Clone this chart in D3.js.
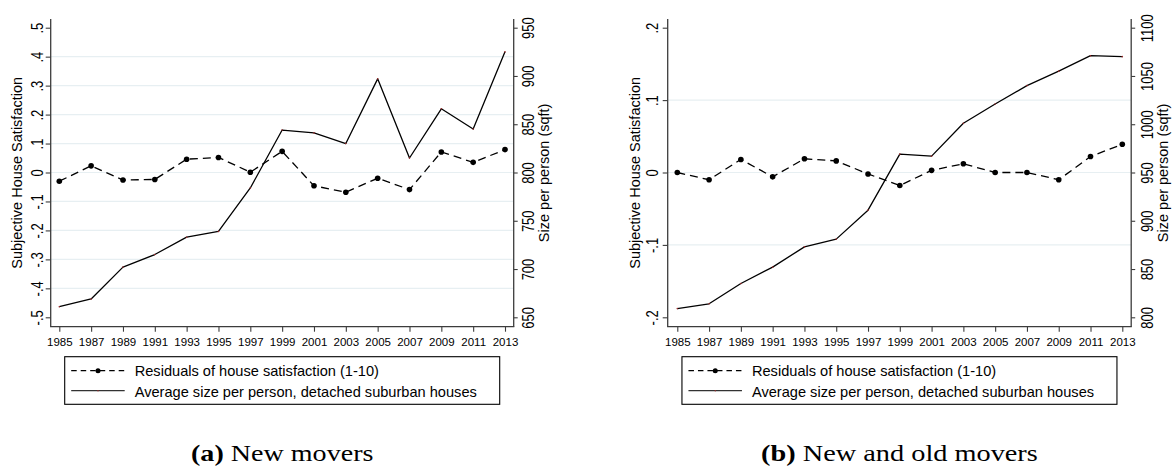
<!DOCTYPE html>
<html>
<head>
<meta charset="utf-8">
<script src="https://cdn.jsdelivr.net/npm/d3@7"></script>
<style>
  body { margin: 0; background: #fff; }
  svg { display: block; font-family: "Liberation Sans", Arial, Helvetica, sans-serif; }
</style>
</head>
<body>
<svg id="chart" width="1174" height="468"></svg>
<script>
// data
const years = [1985, 1987, 1989, 1991, 1993, 1995, 1997, 1999, 2001, 2003, 2005, 2007, 2009, 2011, 2013];

// (a) new movers
const residNew = [-0.030, 0.023, -0.026, -0.024, 0.046, 0.052, 0.001, 0.073, -0.046, -0.068, -0.020, -0.059, 0.071, 0.035, 0.079];
const sizeNew = [661, 669, 702, 715, 733, 739, 784, 844, 841, 830, 897, 815, 866, 845, 925];

// (b) new and old movers
const residAll = [0.000, -0.010, 0.018, -0.006, 0.019, 0.016, -0.002, -0.018, 0.003, 0.012, 0.000, 0.000, -0.010, 0.022, 0.039];
const sizeAll = [809, 814, 835, 852, 873, 881, 911, 969, 967, 1001, 1021, 1040, 1055, 1071, 1070];

const leftTicksA = [-0.5, -0.4, -0.3, -0.2, -0.1, 0, 0.1, 0.2, 0.3, 0.4, 0.5];
const rightTicksA = [650, 700, 750, 800, 850, 900, 950];
const leftTicksB = [-0.2, -0.1, 0, 0.1, 0.2];
const rightTicksB = [800, 850, 900, 950, 1000, 1050, 1100];

const leftTitle = 'Subjective House Satisfaction';
const rightTitle = 'Size per person (sqft)';
const legendLabels = ['Residuals of house satisfaction (1-10)', 'Average size per person, detached suburban houses'];
const captions = [['(a)', ' New movers'], ['(b)', ' New and old movers']];

const svg = d3.select('#chart');

// Stata style: .5 / -.5 / 0
const fmt = d => d === 0 ? '0' : d.toFixed(1).replace(/^(-?)0\./, '$1.');

const plotTop = 19, plotBottom = 326.7;
const tickTop = 27.7, tickBottom = 317.3;

const panels = [
    {
        left: 50.7, right: 513.7, xRange: [59.3, 505],
        leftTicks: leftTicksA, rightTicks: rightTicksA,
        resid: residNew, size: sizeNew,
        leftLabelX: -7.5, leftTitleX: 22.2, rightLabelX: 20.3, rightTitleX: 548.7,
        caption: captions[0], captionScale: 1.17
    },
    {
        left: 667.7, right: 1131.2, xRange: [677.3, 1122.3],
        leftTicks: leftTicksB, rightTicks: rightTicksB,
        resid: residAll, size: sizeAll,
        leftLabelX: -9.8, leftTitleX: 639.7, rightLabelX: 21.3, rightTitleX: 1167.7,
        caption: captions[1], captionScale: 1.18
    }
];

function drawPanel(p) {
    const g = svg.append('g');
    const x = d3.scaleLinear().domain([1985, 2013]).range(p.xRange);
    const yL = d3.scaleLinear().domain(d3.extent(p.leftTicks)).range([tickBottom, tickTop]);
    const yR = d3.scaleLinear().domain(d3.extent(p.rightTicks)).range([tickBottom, tickTop]);
    const midY = (plotTop + plotBottom) / 2;

    // grid lines on the inner left ticks
    g.append('g').selectAll('line')
        .data(p.leftTicks.slice(1, -1))
        .join('line')
        .attr('x1', p.left).attr('x2', p.right)
        .attr('y1', d => yL(d)).attr('y2', d => yL(d))
        .attr('stroke', '#e7eff2')
        .attr('stroke-width', 1.2);

    // left axis
    const axL = g.append('g')
        .attr('transform', `translate(${p.left},0)`)
        .call(d3.axisLeft(yL).tickValues(p.leftTicks).tickSize(5).tickSizeOuter(0).tickFormat(fmt));
    // right axis
    const axR = g.append('g')
        .attr('transform', `translate(${p.right},0)`)
        .call(d3.axisRight(yR).tickValues(p.rightTicks).tickSize(4).tickSizeOuter(0).tickFormat(d3.format('d')));
    // bottom axis
    const axB = g.append('g')
        .attr('transform', `translate(0,${plotBottom})`)
        .call(d3.axisBottom(x).tickValues(years).tickSize(5).tickSizeOuter(0).tickFormat(d3.format('d')));

    [axL, axR, axB].forEach(ax => {
        ax.attr('font-family', null).attr('font-size', null).attr('color', '#3c3c3c');
        ax.select('.domain').remove();
        ax.selectAll('line').attr('stroke-width', 1.1);
        ax.selectAll('text').attr('fill', '#000');
    });

    axL.attr('text-anchor', 'middle').selectAll('text')
        .attr('x', null).attr('dy', null)
        .attr('font-size', 13)
        .attr('transform', `translate(${p.leftLabelX},0) rotate(-90) scale(1,1.2)`);

    axR.attr('text-anchor', 'middle').selectAll('text')
        .attr('x', null).attr('dy', null)
        .attr('font-size', 13)
        .attr('transform', `translate(${p.rightLabelX},0) rotate(-90) scale(1,1.2)`);

    axB.selectAll('text')
        .attr('y', null).attr('dy', null)
        .attr('font-size', 11.5)
        .attr('transform', 'translate(0,18.8)');

    // axis lines
    const axisColor = '#3c3c3c';
    g.append('line').attr('x1', p.left).attr('x2', p.left).attr('y1', plotTop).attr('y2', plotBottom)
        .attr('stroke', axisColor).attr('stroke-width', 1.3);
    g.append('line').attr('x1', p.right).attr('x2', p.right).attr('y1', plotTop).attr('y2', plotBottom)
        .attr('stroke', axisColor).attr('stroke-width', 1.3);
    g.append('line').attr('x1', p.left - 0.6).attr('x2', p.right + 0.6).attr('y1', plotBottom).attr('y2', plotBottom)
        .attr('stroke', axisColor).attr('stroke-width', 1.3);

    // axis titles
    g.append('text')
        .attr('transform', `translate(${p.leftTitleX},${midY}) rotate(-90)`)
        .attr('text-anchor', 'middle')
        .attr('font-size', 14.5)
        .text(leftTitle);
    g.append('text')
        .attr('transform', `translate(${p.rightTitleX},${midY}) rotate(-90)`)
        .attr('text-anchor', 'middle')
        .attr('font-size', 14.5)
        .text(rightTitle);

    // size line (right axis)
    const sizeLine = d3.line().x((d, i) => x(years[i])).y(d => yR(d));
    g.append('path')
        .datum(p.size)
        .attr('fill', 'none')
        .attr('stroke', '#000')
        .attr('stroke-width', 1.3)
        .attr('stroke-linejoin', 'round')
        .attr('d', sizeLine);
    g.append('g').selectAll('circle')
        .data(p.size)
        .join('circle')
        .attr('cx', (d, i) => x(years[i]))
        .attr('cy', d => yR(d))
        .attr('r', 0.8)
        .attr('fill', '#9b2a2a');

    // residual line (left axis)
    const residLine = d3.line().x((d, i) => x(years[i])).y(d => yL(d));
    g.append('path')
        .datum(p.resid)
        .attr('fill', 'none')
        .attr('stroke', '#000')
        .attr('stroke-width', 1.3)
        .attr('stroke-dasharray', '8,5')
        .attr('d', residLine);
    g.append('g').selectAll('circle')
        .data(p.resid)
        .join('circle')
        .attr('cx', (d, i) => x(years[i]))
        .attr('cy', d => yL(d))
        .attr('r', 2.8)
        .attr('fill', '#000');

    // legend
    const boxW = 435, boxH = 47.6;
    const cx = (p.left + p.right) / 2;
    const lg = g.append('g').attr('transform', `translate(${cx - boxW / 2},356.7)`);
    lg.append('rect')
        .attr('width', boxW).attr('height', boxH)
        .attr('fill', '#fff').attr('stroke', '#000').attr('stroke-width', 1.1);
    lg.append('line')
        .attr('x1', 6.5).attr('x2', 60).attr('y1', 14).attr('y2', 14)
        .attr('stroke', '#000').attr('stroke-width', 1.2).attr('stroke-dasharray', '5.5,4');
    lg.append('circle').attr('cx', 33.3).attr('cy', 14).attr('r', 2.5).attr('fill', '#000');
    lg.append('line')
        .attr('x1', 6.5).attr('x2', 60).attr('y1', 34).attr('y2', 34)
        .attr('stroke', '#333').attr('stroke-width', 1.3);
    lg.append('circle').attr('cx', 33.3).attr('cy', 34).attr('r', 0.7).attr('fill', '#9b2a2a');
    lg.selectAll('text.lab')
        .data(legendLabels)
        .join('text')
        .attr('class', 'lab')
        .attr('x', 70)
        .attr('y', (d, i) => 19.3 + i * 21)
        .attr('font-size', 14.6)
        .text(d => d);

    // caption
    const cap = g.append('text')
        .attr('transform', `translate(${cx},460.5) scale(${p.captionScale},1)`)
        .attr('text-anchor', 'middle')
        .attr('font-family', '"Liberation Serif", "Times New Roman", serif')
        .attr('font-size', 24);
    cap.append('tspan').attr('font-weight', 'bold').text(p.caption[0]);
    cap.append('tspan').text(p.caption[1]);
}

panels.forEach(drawPanel);
</script>
</body>
</html>
